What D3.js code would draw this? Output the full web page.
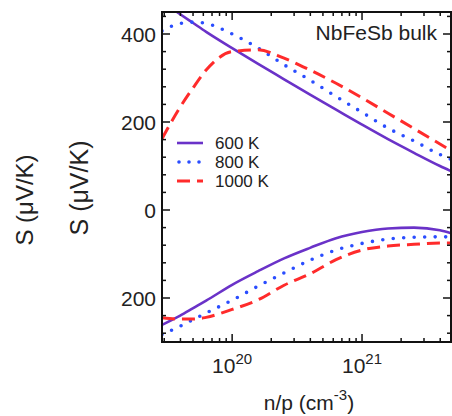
<!DOCTYPE html>
<html>
<head>
<meta charset="utf-8">
<script src="https://cdn.jsdelivr.net/npm/d3@7"></script>
<style>
  body { margin: 0; background: #fff; }
  text { font-family: "Liberation Sans", Arial, sans-serif; fill: #222; }
</style>
</head>
<body>
<svg width="452" height="416"></svg>
<script>
// carrier density exponents (log10 of n/p, cm^-3)
const logN = [19.46, 19.6, 19.7, 19.8, 20.0, 20.2, 20.4, 20.6, 20.8, 21.0, 21.2, 21.4, 21.6, 21.68];

// p-type branch (positive S, uV/K)
const p600  = [474, 445, 425, 405, 368, 332, 297, 262, 228, 194, 161, 130, 100, 89];
const p800  = [407, 424, 427, 424, 400, 368, 330, 295, 258, 222, 186, 157, 126, 116];
const p1000 = [162, 234, 278, 318, 360, 364, 345, 318, 288, 255, 220, 185, 150, 136];

// n-type branch (negative S, uV/K)
const n600  = [-261, -240, -223, -206, -170, -139, -110, -86, -64, -50, -42, -40, -46, -52];
const n800  = [-283, -264, -249, -234, -205, -173, -143, -114, -91, -76, -66, -62, -61, -61];
const n1000 = [-245, -248, -248, -244, -226, -204, -171, -145, -113, -91, -82, -78, -75, -75];

const temps = ["600 K", "800 K", "1000 K"];
const yMajor = [-200, 0, 200, 400];

const styles = [
  { color: "#6a32c8", dash: null, width: 2.6, cap: "butt" },
  { color: "#2a4dff", dash: "0,10.5", width: 3.6, cap: "round" },
  { color: "#ff2b2b", dash: "13,7", width: 3, cap: "butt" }
];

const svg = d3.select("svg");
const plotL = 162, plotR = 451, plotT = 12, plotB = 342;

const x = d3.scaleLog()
  .domain([Math.pow(10, 19.46), Math.pow(10, 21.685)])
  .range([plotL, plotR]);

const y = d3.scaleLinear()
  .domain([-300, 450])
  .range([plotB, plotT]);

svg.append("clipPath").attr("id", "plot")
  .append("rect")
  .attr("x", plotL).attr("y", plotT)
  .attr("width", plotR - plotL).attr("height", plotB - plotT);

const line = d3.line()
  .x((d, i) => x(Math.pow(10, logN[i])))
  .y(d => y(d))
  .curve(d3.curveMonotoneX);

const series = [
  [p600, 0], [p800, 1], [p1000, 2],
  [n600, 0], [n800, 1], [n1000, 2]
];

svg.append("g")
  .attr("clip-path", "url(#plot)")
  .selectAll("path")
  .data(series)
  .enter()
  .append("path")
  .attr("d", d => line(d[0]))
  .attr("fill", "none")
  .attr("stroke", d => styles[d[1]].color)
  .attr("stroke-width", d => styles[d[1]].width)
  .attr("stroke-dasharray", d => styles[d[1]].dash)
  .attr("stroke-linecap", d => styles[d[1]].cap);

// ticks (inward on all four sides)
const xMinor = x.ticks().filter(v => {
  const e = Math.log10(v);
  return Math.abs(e - Math.round(e)) > 1e-6;
});
const xMajor = [1e20, 1e21];
const yMinor = d3.range(-280, 441, 40).filter(v => !yMajor.includes(v));

const ticks = svg.append("g").attr("stroke", "#111").attr("stroke-width", 1.5);

xMajor.forEach(v => {
  ticks.append("line").attr("x1", x(v)).attr("x2", x(v)).attr("y1", plotB).attr("y2", plotB - 8);
  ticks.append("line").attr("x1", x(v)).attr("x2", x(v)).attr("y1", plotT).attr("y2", plotT + 8);
});
xMinor.forEach(v => {
  ticks.append("line").attr("x1", x(v)).attr("x2", x(v)).attr("y1", plotB).attr("y2", plotB - 4);
  ticks.append("line").attr("x1", x(v)).attr("x2", x(v)).attr("y1", plotT).attr("y2", plotT + 4);
});
yMajor.forEach(v => {
  ticks.append("line").attr("x1", plotL).attr("x2", plotL + 8).attr("y1", y(v)).attr("y2", y(v));
  ticks.append("line").attr("x1", plotR).attr("x2", plotR - 8).attr("y1", y(v)).attr("y2", y(v));
});
yMinor.forEach(v => {
  ticks.append("line").attr("x1", plotL).attr("x2", plotL + 4).attr("y1", y(v)).attr("y2", y(v));
  ticks.append("line").attr("x1", plotR).attr("x2", plotR - 4).attr("y1", y(v)).attr("y2", y(v));
});

// frame
svg.append("rect")
  .attr("x", plotL).attr("y", plotT)
  .attr("width", plotR - plotL).attr("height", plotB - plotT)
  .attr("fill", "none")
  .attr("stroke", "#111")
  .attr("stroke-width", 2);

// y tick labels
svg.append("g")
  .selectAll("text")
  .data(yMajor)
  .enter()
  .append("text")
  .attr("x", plotL - 6)
  .attr("y", d => y(d))
  .attr("dy", "0.36em")
  .attr("text-anchor", "end")
  .attr("font-size", 21)
  .text(d => Math.abs(d));

// x tick labels with superscript exponent
const xl = svg.append("g")
  .selectAll("text")
  .data(xMajor)
  .enter()
  .append("text")
  .attr("x", d => x(d))
  .attr("y", 373)
  .attr("text-anchor", "middle")
  .attr("font-size", 21);
xl.append("tspan").text("10");
xl.append("tspan")
  .attr("dy", -9)
  .attr("font-size", 15)
  .text(d => Math.round(Math.log10(d)));

// x axis title
const xt = svg.append("text")
  .attr("x", 309)
  .attr("y", 410)
  .attr("text-anchor", "middle")
  .attr("font-size", 21);
xt.append("tspan").text("n/p (cm");
xt.append("tspan").attr("dy", -10).attr("font-size", 15).text("-3");
xt.append("tspan").attr("dy", 10).text(")");

// y axis titles
svg.append("text")
  .attr("transform", "translate(33,200) rotate(-90)")
  .attr("text-anchor", "middle")
  .attr("font-size", 24)
  .text("S (\u03bcV/K)");

svg.append("text")
  .attr("transform", "translate(88,188) rotate(-90)")
  .attr("text-anchor", "middle")
  .attr("font-size", 25)
  .text("S (\u03bcV/K)");

// material label
svg.append("text")
  .attr("x", 437)
  .attr("y", 40)
  .attr("text-anchor", "end")
  .attr("font-size", 21)
  .text("NbFeSb bulk");

// legend
const legend = svg.append("g")
  .selectAll("g")
  .data(temps)
  .enter()
  .append("g")
  .attr("transform", (d, i) => `translate(177, ${143 + i * 19})`);

legend.append("line")
  .attr("x1", 0).attr("x2", 26)
  .attr("y1", 0).attr("y2", 0)
  .attr("stroke", (d, i) => styles[i].color)
  .attr("stroke-width", (d, i) => styles[i].width)
  .attr("stroke-dasharray", (d, i) => i === 1 ? "0,10" : styles[i].dash)
  .attr("stroke-linecap", (d, i) => styles[i].cap)
  .attr("transform", (d, i) => i === 1 ? "translate(2,0)" : null);

legend.append("text")
  .attr("x", 38)
  .attr("y", 0)
  .attr("dy", "0.36em")
  .attr("font-size", 17)
  .text(d => d);
</script>
</body>
</html>
